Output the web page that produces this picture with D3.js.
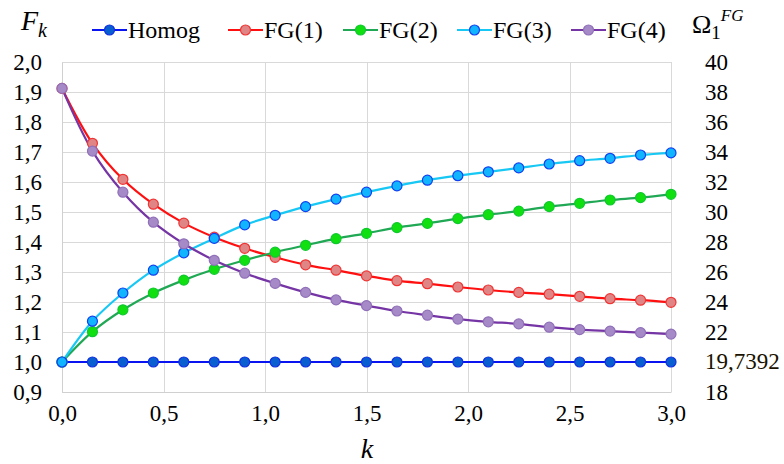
<!DOCTYPE html>
<html><head><meta charset="utf-8">
<script src="https://cdn.jsdelivr.net/npm/d3@7"></script>
<style>body{margin:0;background:#fff}svg{display:block}</style>
</head><body><svg id="c" width="784" height="464" font-family="Liberation Serif"></svg>
<script>
const kValues = [0,0.15,0.3,0.45,0.6,0.75,0.9,1.05,1.2,1.35,1.5,1.65,1.8,1.95,2.1,2.25,2.4,2.55,2.7,2.85,3.0];
const homog = [1,1,1,1,1,1,1,1,1,1,1,1,1,1,1,1,1,1,1,1,1];
const fg1 = [1.912,1.729,1.609,1.526,1.463,1.416,1.379,1.349,1.324,1.306,1.287,1.271,1.261,1.250,1.240,1.232,1.226,1.219,1.211,1.206,1.199];
const fg2 = [1.0,1.101,1.174,1.230,1.273,1.309,1.339,1.366,1.389,1.411,1.429,1.448,1.462,1.478,1.491,1.503,1.518,1.529,1.540,1.548,1.559];
const fg3 = [1.0,1.136,1.230,1.306,1.364,1.412,1.457,1.489,1.518,1.543,1.566,1.587,1.606,1.621,1.634,1.647,1.660,1.671,1.679,1.690,1.697];
const fg4 = [1.912,1.703,1.566,1.466,1.394,1.339,1.296,1.262,1.232,1.207,1.188,1.170,1.156,1.143,1.134,1.127,1.116,1.108,1.103,1.098,1.093];
const seriesNames = ["Homog","FG(1)","FG(2)","FG(3)","FG(4)"];
const xTicks = [0,0.5,1.0,1.5,2.0,2.5,3.0];
const yTicks = [0.9,1.0,1.1,1.2,1.3,1.4,1.5,1.6,1.7,1.8,1.9,2.0];
const rightTicks = [18,22,24,26,28,30,32,34,36,38,40];
const rightSpecialLabel = "19,7392";
const rightSpecialValue = 20;

const FONT = '"Liberation Serif"';
const styles = [
  {line:"#0a14f0", fill:"#0a5fd0", stroke:"#1030e0"},
  {line:"#ff1010", fill:"#e08585", stroke:"#f03535"},
  {line:"#20a855", fill:"#10e010", stroke:"#10c830"},
  {line:"#18c8f4", fill:"#10b4ff", stroke:"#1040f0"},
  {line:"#7535a5", fill:"#a68ac8", stroke:"#9070b8"}
];
const data = [homog, fg1, fg2, fg3, fg4];

const svg = d3.select("#c");
const L=62, R=671, T=62, B=392;
const x = d3.scaleLinear().domain([0,3]).range([L,R]);
const y = d3.scaleLinear().domain([0.9,2.0]).range([B,T]);
const y2 = d3.scaleLinear().domain([18,40]).range([B,T]);

const grid = svg.append("g");
grid.selectAll("line.h").data(yTicks).join("line")
  .attr("x1",L).attr("x2",R).attr("y1",d=>Math.round(y(d))+0.5).attr("y2",d=>Math.round(y(d))+0.5)
  .attr("stroke","#d9d9d9").attr("stroke-width",1);
grid.selectAll("line.v").data(xTicks).join("line")
  .attr("y1",T).attr("y2",B).attr("x1",d=>Math.round(x(d))+0.5).attr("x2",d=>Math.round(x(d))+0.5)
  .attr("stroke","#d9d9d9").attr("stroke-width",1);

const fmt = d=>d3.format(".1f")(d).replace(".",",");
const gx = svg.append("g").attr("transform",`translate(0,${B})`)
  .call(d3.axisBottom(x).tickValues(xTicks).tickSize(0).tickPadding(13).tickFormat(fmt));
gx.select(".domain").attr("stroke","#d0d0d0");

const gy = svg.append("g").attr("transform",`translate(${L},0)`)
  .call(d3.axisLeft(y).tickValues(yTicks).tickSize(0).tickPadding(20).tickFormat(fmt));
gy.select(".domain").attr("stroke","#d0d0d0");

const gr = svg.append("g").attr("transform",`translate(${R},0)`)
  .call(d3.axisRight(y2).tickValues(rightTicks).tickSize(0).tickPadding(34).tickFormat(d=>d));
gr.select(".domain").attr("stroke","none");
[gx,gy,gr].forEach(g=>g.attr("font-family","Liberation Serif").attr("font-size",23));
svg.selectAll(".tick text").attr("fill","#000");
svg.append("text").attr("x",R+34).attr("y",y2(rightSpecialValue)).attr("dy","0.32em")
  .attr("font-size",23).attr("fill","#1a1200").text(rightSpecialLabel);

const line = d3.line().x((d,i)=>x(kValues[i])).y(d=>y(d)).curve(d3.curveCatmullRom.alpha(0.5));
data.forEach((s,si)=>{
  svg.append("path").datum(s).attr("d",line).attr("fill","none").attr("stroke",styles[si].line).attr("stroke-width",2.2);
});
data.forEach((s,si)=>{
  const st = styles[si];
  svg.append("g").selectAll("circle").data(s).join("circle")
    .attr("cx",(d,i)=>x(kValues[i])).attr("cy",d=>y(d)).attr("r",5)
    .attr("fill",st.fill).attr("stroke",st.stroke).attr("stroke-width",1.2);
});

const legendX = [92,228,343,457,571];
seriesNames.forEach((n,i)=>{
  const st = styles[i];
  const g = svg.append("g").attr("transform",`translate(${legendX[i]},30)`);
  g.append("line").attr("x1",0).attr("x2",35).attr("y1",0).attr("y2",0).attr("stroke",st.line).attr("stroke-width",2.2);
  g.append("circle").attr("cx",17.5).attr("cy",0).attr("r",5).attr("fill",st.fill).attr("stroke",st.stroke).attr("stroke-width",1.2);
  g.append("text").attr("x",36).attr("y",0).attr("dy","0.33em").attr("font-size",24).text(n);
});

const ft = svg.append("text").attr("x",21).attr("y",30).attr("font-size",28).attr("font-style","italic");
ft.append("tspan").text("F");
ft.append("tspan").attr("dy",7).attr("font-size",20).text("k");

const om = svg.append("text").attr("x",692).attr("y",33).attr("font-size",26);
om.append("tspan").text("Ω");
om.append("tspan").attr("dy",6).attr("font-size",19).text("1");
om.append("tspan").attr("dy",-18).attr("font-size",17).attr("font-style","italic").text("FG");

svg.append("text").attr("x",367).attr("y",458).attr("text-anchor","middle").attr("font-size",28).attr("font-style","italic").text("k");

svg.selectAll("text").style("font-family",FONT);
</script>
</body></html>
